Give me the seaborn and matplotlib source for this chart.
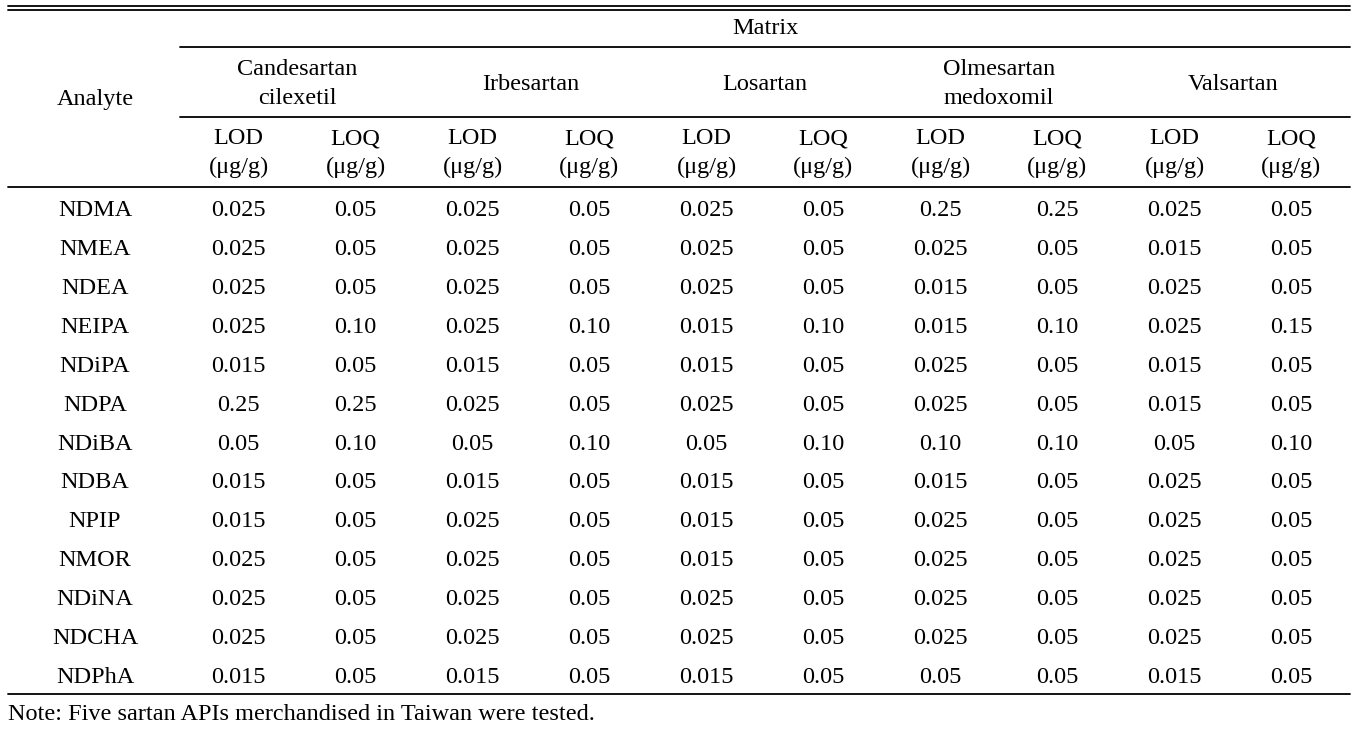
import numpy as np
import pandas as pd
import matplotlib
matplotlib.use("Agg")
import matplotlib.pyplot as plt
from matplotlib.colors import ListedColormap
from matplotlib.lines import Line2D
import seaborn as sns

analytes = ["NDMA", "NMEA", "NDEA", "NEIPA", "NDiPA", "NDPA", "NDiBA",
            "NDBA", "NPIP", "NMOR", "NDiNA", "NDCHA", "NDPhA"]
matrices = ["Candesartan\ncilexetil", "Irbesartan", "Losartan",
            "Olmesartan\nmedoxomil", "Valsartan"]

candesartan_lod = ["0.025", "0.025", "0.025", "0.025", "0.015", "0.25", "0.05", "0.015", "0.015", "0.025", "0.025", "0.025", "0.015"]
candesartan_loq = ["0.05", "0.05", "0.05", "0.10", "0.05", "0.25", "0.10", "0.05", "0.05", "0.05", "0.05", "0.05", "0.05"]
irbesartan_lod = ["0.025", "0.025", "0.025", "0.025", "0.015", "0.025", "0.05", "0.015", "0.025", "0.025", "0.025", "0.025", "0.015"]
irbesartan_loq = ["0.05", "0.05", "0.05", "0.10", "0.05", "0.05", "0.10", "0.05", "0.05", "0.05", "0.05", "0.05", "0.05"]
losartan_lod = ["0.025", "0.025", "0.025", "0.015", "0.015", "0.025", "0.05", "0.015", "0.015", "0.015", "0.025", "0.025", "0.015"]
losartan_loq = ["0.05", "0.05", "0.05", "0.10", "0.05", "0.05", "0.10", "0.05", "0.05", "0.05", "0.05", "0.05", "0.05"]
olmesartan_lod = ["0.25", "0.025", "0.015", "0.015", "0.025", "0.025", "0.10", "0.015", "0.025", "0.025", "0.025", "0.025", "0.05"]
olmesartan_loq = ["0.25", "0.05", "0.05", "0.10", "0.05", "0.05", "0.10", "0.05", "0.05", "0.05", "0.05", "0.05", "0.05"]
valsartan_lod = ["0.025", "0.015", "0.025", "0.025", "0.015", "0.015", "0.05", "0.025", "0.025", "0.025", "0.025", "0.025", "0.015"]
valsartan_loq = ["0.05", "0.05", "0.05", "0.15", "0.05", "0.05", "0.10", "0.05", "0.05", "0.05", "0.05", "0.05", "0.05"]

cols = [candesartan_lod, candesartan_loq, irbesartan_lod, irbesartan_loq,
        losartan_lod, losartan_loq, olmesartan_lod, olmesartan_loq,
        valsartan_lod, valsartan_loq]
labels = np.array(cols).T
d = pd.DataFrame(labels.astype(float), index=analytes)

sns.set_theme(style="white")
plt.rcParams['font.family'] = ['Liberation Serif', 'DejaVu Serif']
plt.rcParams['text.color'] = 'black'
plt.rcParams['ytick.color'] = 'black'
fs = 17.5

W, H = 1357, 730
fig = plt.figure(figsize=(W / 100, H / 100), dpi=100)

# table body sits in pixel box x 180..1350, y 188..694 (shifted a touch down)
ax = fig.add_axes([180 / W, 1 - 697 / H, 1170 / W, 506 / H])
sns.heatmap(d, annot=labels, fmt="", cmap=ListedColormap(["white"]), cbar=False,
            linewidths=0, annot_kws={"size": fs, "color": "black"}, ax=ax)
ax.set_xticks([])
ax.set_yticklabels(analytes, rotation=0, ha="center", fontsize=fs)
ax.tick_params(axis="y", length=0, pad=85 * 72 / 100)
ax.set_xlabel("")
ax.set_ylabel("")


def px(x, y):
    return x / W, 1 - y / H


def hline(y, x0, x1):
    a, b = px(x0, y)
    c, _ = px(x1, y)
    fig.add_artist(Line2D([a, c], [b, b], color="black", lw=1.3))


for y, x0 in [(6, 8), (10, 8), (47, 180), (117, 180), (187, 8), (694, 8)]:
    hline(y, x0, 1350)

fig.text(*px(765, 29), "Matrix", ha="center", va="center", fontsize=fs)
fig.text(*px(95, 99), "Analyte", ha="center", va="center", fontsize=fs)
for i, m in enumerate(matrices):
    xc = 180 + 234 * i + 117
    fig.text(*px(xc, 84), m, ha="center", va="center", fontsize=fs,
             linespacing=1.45)
    for j, lab in enumerate(["LOD", "LOQ"]):
        xx = 180 + 234 * i + 117 * j + 58.5
        fig.text(*px(xx, 153), lab + "\n(\u03bcg/g)", ha="center", va="center",
                 fontsize=fs, linespacing=1.45)

fig.text(*px(8, 715), "Note: Five sartan APIs merchandised in Taiwan were tested.",
         ha="left", va="center", fontsize=fs)

fig.savefig("out.png", dpi=100)
